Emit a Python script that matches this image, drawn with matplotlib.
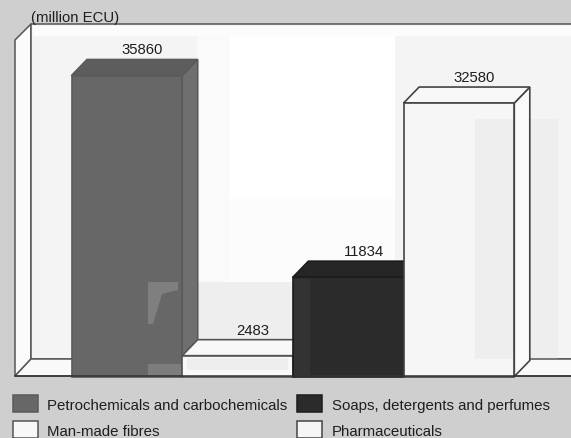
import matplotlib
matplotlib.use('Agg')
import matplotlib.pyplot as plt
from matplotlib.patches import Polygon, Rectangle

plt.rcParams['font.family'] = ['Liberation Sans', 'DejaVu Sans']

# Data
categories = ['Petrochemicals and carbochemicals', 'Man-made fibres',
              'Soaps, detergents and perfumes', 'Pharmaceuticals']
values = [35860, 2483, 11834, 32580]
front_colors = ['#676767', '#f8f8f8', '#2b2b2b', '#f6f6f6']
top_colors = ['#5d5d5d', '#f8f8f8', '#262626', '#f8f8f8']
side_colors = ['#6f6f6f', '#fafafa', '#222222', '#fafafa']
edge_colors = ['#5a5a5a', '#555555', '#1c1c1c', '#444444']

W, H = 571, 439
BG = '#cfcfcf'
TXT = '#1e1e1e'
FS = 10.7

# scale of the drawing, pixels per unit
px_per_bar = 110.7
px_per_val = 301 / 35860
x0_px, y0_px = 71.5, 377.5
dx = 15.5 / px_per_bar
dy = 16 / px_per_val

fig = plt.figure(figsize=(W / 100, H / 100), dpi=100, facecolor=BG)

# overlay in pixel coords for walls and legend
bg = fig.add_axes([0, 0, 1, 1])
bg.set_xlim(0, W)
bg.set_ylim(H, 0)
bg.axis('off')

# left side wall
bg.add_patch(Polygon([(15, 41), (31, 25), (31, 360), (15, 377)], fc='#fbfbfb', ec='#555555', lw=1.1))
# back wall with its lighter and darker blocks
bg.add_patch(Polygon([(31, 25), (575, 25), (575, 360), (31, 360)], fc='#f4f4f4', ec='#555555', lw=1.1))
bg.add_patch(Rectangle((33, 27), 540, 10, fc='#fcfcfc', ec='none'))
bg.add_patch(Rectangle((197, 37), 33, 246, fc='#fafafa', ec='none'))
bg.add_patch(Rectangle((230, 37), 165, 163, fc='#ffffff', ec='none'))
bg.add_patch(Rectangle((230, 200), 165, 83, fc='#fcfcfc', ec='none'))
bg.add_patch(Rectangle((197, 283), 100, 60, fc='#eeeeee', ec='none'))
bg.add_patch(Rectangle((530, 120), 28, 240, fc='#eeeeee', ec='none'))
# floor
bg.add_patch(Polygon([(15, 377), (31, 360), (575, 360), (575, 377)], fc='#f9f9f9', ec='#555555', lw=1.1))

bg.text(31, 18, '(million ECU)', fontsize=FS, color=TXT, va='center', ha='left')

# bars on their own axes
ax = fig.add_axes([0, 0, 1, 1])
ax.set_xlim(-x0_px / px_per_bar, (W - x0_px) / px_per_bar)
ax.set_ylim(-(H - y0_px) / px_per_val, y0_px / px_per_val)
ax.axis('off')
ax.patch.set_alpha(0)

for i, v in enumerate(values):
    ec = edge_colors[i]
    ax.add_patch(Polygon([(i + 1, 0), (i + 1 + dx, dy), (i + 1 + dx, v + dy), (i + 1, v)],
                         fc=side_colors[i], ec=ec, lw=1.2))
    ax.add_patch(Polygon([(i, v), (i + dx, v + dy), (i + 1 + dx, v + dy), (i + 1, v)],
                         fc=top_colors[i], ec=ec, lw=1.2))
    ax.bar(i, v, width=1, align='edge', color=front_colors[i], edgecolor=ec, linewidth=1.2)
    ax.text(i + 0.5 + dx, v + dy + 360, str(v), fontsize=FS, color=TXT,
            ha='center', va='bottom')

# faint blocks sitting on top of the bars
fg = fig.add_axes([0, 0, 1, 1])
fg.set_xlim(0, W)
fg.set_ylim(H, 0)
fg.axis('off')
fg.patch.set_alpha(0)
fg.add_patch(Polygon([(148, 283), (178, 283), (178, 291), (162, 295), (153, 325), (148, 325)],
                     fc='#7f7f7f', ec='none'))
fg.add_patch(Rectangle((148, 365), 33, 11, fc='#7d7d7d', ec='none'))
fg.add_patch(Rectangle((187, 359), 101, 12, fc='#eeeeee', ec='none'))
fg.add_patch(Rectangle((294, 280), 16, 96, fc='#333333', ec='none'))
fg.add_patch(Rectangle((475, 120), 38, 240, fc='#eeeeee', ec='none'))
fg.plot([15, W], [377, 377], color='#333333', lw=1.1)

# legend
swatches = [(13, 396, 0), (13, 422, 1), (297, 396, 2), (297, 422, 3)]
for sx, sy, i in swatches:
    fg.add_patch(Rectangle((sx, sy), 25, 17, fc=front_colors[i], ec=edge_colors[i], lw=1.1))
    tx = 47 if sx < 100 else 332
    fg.text(tx, sy + 10, categories[i], fontsize=10.85, color=TXT, va='center', ha='left')

fig.savefig('out.png', dpi=100, facecolor=BG)
